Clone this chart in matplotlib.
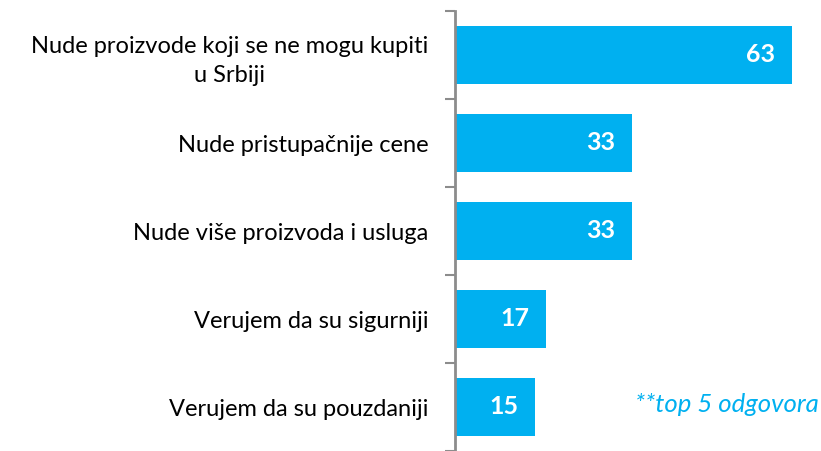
import matplotlib.pyplot as plt

labels = [
    "Nude proizvode koji se ne mogu kupiti\nu Srbiji",
    "Nude pristupačnije cene",
    "Nude više proizvoda i usluga",
    "Verujem da su sigurniji",
    "Verujem da su pouzdaniji",
]
values = [63, 33, 33, 17, 15]
note = "**top 5 odgovora"

blue = "#00B0F0"

fig = plt.figure(figsize=(8.21, 4.51), dpi=100)
ax = fig.add_axes([455 / 821, 0, 1 - 455 / 821, 440 / 451])

pos = list(range(len(values)))
ax.barh(pos, values, height=0.67, color=blue)
ax.set_ylim(len(values) - 0.5, -0.5)
ax.set_xlim(0, 366 / 5.35)

for p, v in zip(pos, values):
    ax.annotate(str(v), (v, p), xytext=(-12, 0), textcoords="offset points",
                ha="right", va="center", color="white", fontsize=18,
                fontweight="bold", family="Lato")

ax.set_yticks(pos)
ax.set_yticklabels(labels, fontsize=17, family="Lato", multialignment="center",
                   linespacing=1.5)
ax.set_yticks([p + 0.5 for p in [-1] + pos], minor=True)
ax.tick_params(axis="y", which="major", length=0, pad=19)
ax.tick_params(axis="y", which="minor", length=7, width=1.5, color="#8c8c8c")
ax.set_xticks([])

for s in ["top", "right", "bottom"]:
    ax.spines[s].set_visible(False)
ax.spines["left"].set_color("#8c8c8c")
ax.spines["left"].set_linewidth(2)

ax.text(0.995, 0.105, note, transform=ax.transAxes, ha="right", va="center",
        color=blue, fontsize=18.5, style="italic", family="Lato")

fig.savefig("out.png", dpi=100)
